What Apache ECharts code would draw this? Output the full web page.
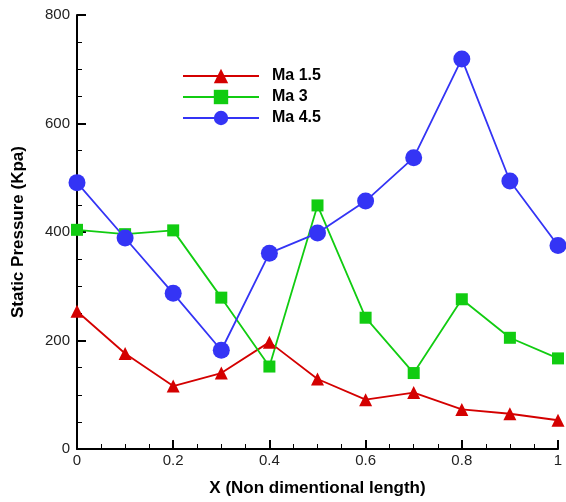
<!DOCTYPE html>
<html><head><meta charset="utf-8">
<script src="https://cdn.jsdelivr.net/npm/echarts@6/dist/echarts.min.js"></script>
<style>html,body{margin:0;padding:0;background:#fff}#c{width:566px;height:502px}</style>
</head><body><div id="c"></div>
<script>
var xs = [0, 0.1, 0.2, 0.3, 0.4, 0.5, 0.6, 0.7, 0.8, 0.9, 1.0];
var ma15 = [254, 176, 116, 140, 197, 129, 91, 104, 73, 65, 53];
var ma3 = [404, 396, 403, 279, 152, 449, 242, 140, 276, 205, 167];
var ma45 = [491, 389, 287, 182, 361, 398, 457, 537, 719, 494, 375];
var seriesNames = ['Ma 1.5', 'Ma 3', 'Ma 4.5'];
function pairs(v){ return xs.map(function(x,i){ return [x, v[i]]; }); }
var chart = echarts.init(document.getElementById('c'));
var font = 'Liberation Sans, Arial, sans-serif';
chart.setOption({
  animation: false,
  textStyle: {fontFamily: font},
  grid: {left: 77, right: 8, top: 15, bottom: 50, containLabel: false},
  legend: {
    orient: 'vertical', left: 182, top: 68, padding: 0, itemWidth: 76, itemHeight: 18, itemGap: 5,
    textStyle: {fontFamily: font, fontWeight: 'bold', fontSize: 16, color: '#000', padding: [0,0,0,8]},
    data: seriesNames
  },
  xAxis: {
    type: 'value', min: 0, max: 1, interval: 0.2,
    name: 'X (Non dimentional length)', nameLocation: 'middle', nameGap: 31,
    nameTextStyle: {fontFamily: font, fontWeight: 'bold', fontSize: 17, color: '#000'},
    axisLine: {show: true, lineStyle: {color: '#000', width: 2}},
    axisTick: {show: true, inside: true, length: 9, lineStyle: {color: '#000', width: 2}},
    minorTick: {show: true, splitNumber: 4, length: 5, lineStyle: {color: '#000', width: 1}},
    splitLine: {show: false},
    axisLabel: {fontFamily: font, fontSize: 15, color: '#222', margin: 4}
  },
  yAxis: {
    type: 'value', min: 0, max: 800, interval: 200,
    name: 'Static Pressure (Kpa)', nameLocation: 'middle', nameGap: 50,
    nameTextStyle: {fontFamily: font, fontWeight: 'bold', fontSize: 17, color: '#000'},
    axisLine: {show: true, lineStyle: {color: '#000', width: 2}},
    axisTick: {show: true, inside: true, length: 9, lineStyle: {color: '#000', width: 2}},
    minorTick: {show: true, splitNumber: 4, length: 5, lineStyle: {color: '#000', width: 1}},
    splitLine: {show: false},
    axisLabel: {fontFamily: font, fontSize: 15, color: '#222', margin: 7}
  },
  series: [
    {name: seriesNames[0], type: 'line', data: pairs(ma15), symbol: 'triangle', symbolSize: 13,
     lineStyle: {color: '#d40000', width: 1.8}, itemStyle: {color: '#d40000'}},
    {name: seriesNames[1], type: 'line', data: pairs(ma3), symbol: 'rect', symbolSize: 12,
     lineStyle: {color: '#11cc11', width: 1.8}, itemStyle: {color: '#11cc11'}},
    {name: seriesNames[2], type: 'line', data: pairs(ma45), symbol: 'circle', symbolSize: 17,
     lineStyle: {color: '#3434f5', width: 1.8}, itemStyle: {color: '#3434f5'}}
  ]
});
</script></body></html>
